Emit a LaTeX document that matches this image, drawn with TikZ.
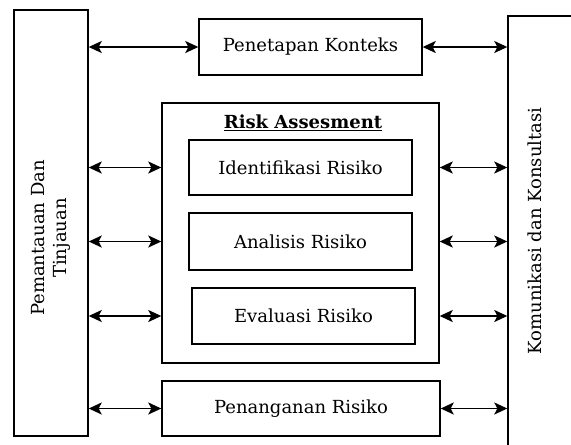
\documentclass[tikz,border=0pt]{standalone}
\usepackage{fontspec}
\setmainfont{DejaVu Serif}
\usetikzlibrary{arrows.meta}
\begin{document}
\begin{tikzpicture}[x=1pt,y=-1pt,
  box/.style={draw, line width=1.4pt, inner sep=0pt},
  lbl/.style={font=\fontsize{18}{22}\selectfont, inner sep=0pt},
  conn/.style={{Stealth[length=13pt,width=12pt,inset=3pt]}-{Stealth[length=13pt,width=12pt,inset=3pt]}, line width=1.6pt}]
\clip (0,0) rectangle (571,445);
\fill[white] (0,0) rectangle (571,445);
% boxes
\node[box, minimum width=74pt, minimum height=426pt] (left) at (51,223) {};
\node[box, minimum width=112pt, minimum height=454pt] (right) at (564,243) {};
\node[box, minimum width=223pt, minimum height=56pt] (pk) at (310.5,47) {};
\node[box, minimum width=277pt, minimum height=260pt] (ra) at (300.5,233) {};
\node[box, minimum width=223pt, minimum height=55pt] (id) at (300.5,167.5) {};
\node[box, minimum width=223pt, minimum height=57pt] (an) at (300.5,241.5) {};
\node[box, minimum width=223pt, minimum height=56pt] (ev) at (303.5,316) {};
\node[box, minimum width=278pt, minimum height=55pt] (pr) at (301,408.5) {};
% texts
\node[lbl] (tpk) at (pk) {Penetapan Konteks};
\node[lbl, font=\fontsize{18}{22}\selectfont\bfseries] (tra) at (303,123) {\underline{Risk Assesment}};
\node[lbl] (tid) at (id) {Identifikasi Risiko};
\node[lbl] (tan) at (an) {Analisis Risiko};
\node[lbl] (tev) at (ev) {Evaluasi Risiko};
\node[lbl] (tpr) at (pr) {Penanganan Risiko};
\node[lbl, rotate=90, align=center] (tleft) at (51,238) {Pemantauan Dan\\Tinjauan};
\node[lbl, rotate=90] (tright) at (535,231) {Komunikasi dan Konsultasi};
% connectors left
\draw[conn] (left.east |- pk.west) -- (pk.west);
\draw[conn] (left.east |- id.west) -- (ra.west |- id.west);
\draw[conn] (left.east |- an.west) -- (ra.west |- an.west);
\draw[conn] (left.east |- ev.west) -- (ra.west |- ev.west);
\draw[conn] (left.east |- pr.west) -- (pr.west);
% connectors right
\draw[conn] (pk.east) -- (right.west |- pk.east);
\draw[conn] (ra.east |- id.east) -- (right.west |- id.east);
\draw[conn] (ra.east |- an.east) -- (right.west |- an.east);
\draw[conn] (ra.east |- ev.east) -- (right.west |- ev.east);
\draw[conn] (pr.east) -- (right.west |- pr.east);
\end{tikzpicture}
\end{document}
